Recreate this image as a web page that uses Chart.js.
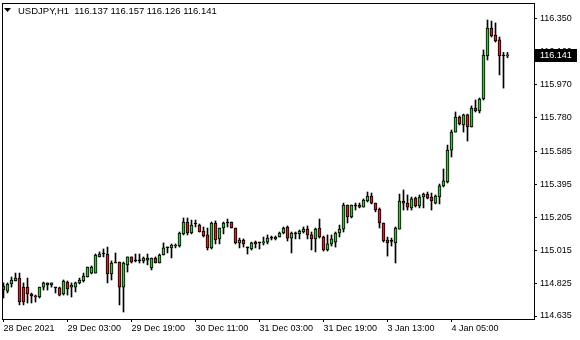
<!DOCTYPE html>
<html><head><meta charset="utf-8">
<script src="https://cdn.jsdelivr.net/npm/chart.js@4.4.1/dist/chart.umd.min.js"></script>
<style>html,body{margin:0;padding:0;background:#fff;}#wrap{width:580px;height:340px;}</style>
</head><body><div id="wrap"><canvas id="c" width="580" height="340"></canvas></div>
<script>
const symbol = 'USDJPY,H1';
const tickBars = [0, 16, 32, 48, 64, 80, 96, 112];
const tickLabels = ['28 Dec 2021', '29 Dec 03:00', '29 Dec 19:00', '30 Dec 11:00', '31 Dec 03:00', '31 Dec 19:00', '3 Jan 13:00', '4 Jan 05:00'];
const priceTicks = [116.350, 116.160, 115.970, 115.780, 115.585, 115.395, 115.205, 115.015, 114.825, 114.635];

const opens = [114.808,114.779,114.820,114.837,114.854,114.802,114.802,114.762,114.751,114.745,
114.802,114.826,114.814,114.797,114.797,114.762,114.831,114.802,114.802,114.826,
114.837,114.860,114.883,114.883,114.976,114.993,114.993,114.878,114.947,114.947,
114.802,114.930,114.976,114.953,114.953,114.953,114.958,114.912,114.970,114.941,
114.987,115.028,115.028,115.039,115.039,115.109,115.178,115.114,115.166,115.160,
115.126,115.103,115.028,115.172,115.080,115.143,115.172,115.178,115.143,115.057,
115.074,115.028,115.022,115.062,115.057,115.057,115.062,115.085,115.080,115.091,
115.114,115.149,115.085,115.109,115.109,115.120,115.137,115.103,115.080,115.143,
115.091,115.016,115.051,115.062,115.114,115.137,115.276,115.207,115.270,115.276,
115.264,115.299,115.328,115.287,115.253,115.172,115.074,115.066,115.057,115.137,
115.299,115.287,115.259,115.316,115.270,115.322,115.339,115.322,115.287,115.322,
115.386,115.409,115.593,115.697,115.784,115.738,115.796,115.726,115.836,115.819,
115.888,116.136,116.298,116.257,116.229,116.136,116.137];
const highs = [114.826,114.826,114.860,114.883,114.883,114.826,114.854,114.768,114.756,114.802,
114.831,114.826,114.826,114.797,114.802,114.843,114.837,114.826,114.831,114.854,
114.883,114.918,114.924,114.993,115.005,115.022,115.033,114.953,114.999,114.947,
114.947,114.976,114.976,114.993,114.993,114.976,114.993,114.970,114.976,114.993,
115.057,115.033,115.051,115.051,115.120,115.201,115.201,115.189,115.189,115.166,
115.149,115.143,115.178,115.184,115.143,115.178,115.195,115.178,115.143,115.085,
115.080,115.033,115.062,115.068,115.057,115.091,115.103,115.097,115.097,115.120,
115.149,115.155,115.120,115.120,115.132,115.149,115.155,115.120,115.143,115.195,
115.097,115.103,115.103,115.120,115.160,115.287,115.276,115.276,115.287,115.287,
115.311,115.351,115.345,115.287,115.259,115.172,115.091,115.085,115.149,115.339,
115.363,115.334,115.322,115.322,115.334,115.345,115.351,115.345,115.334,115.397,
115.484,115.622,115.709,115.813,115.790,115.801,115.801,115.848,115.882,115.894,
116.171,116.344,116.338,116.327,116.246,116.157,116.157];
const lows = [114.739,114.768,114.802,114.837,114.699,114.699,114.710,114.710,114.716,114.739,
114.785,114.785,114.802,114.768,114.751,114.756,114.756,114.745,114.774,114.820,
114.831,114.860,114.878,114.883,114.976,114.976,114.826,114.843,114.941,114.699,
114.658,114.889,114.941,114.947,114.941,114.941,114.930,114.901,114.941,114.941,
114.987,114.999,114.970,115.028,115.033,115.103,115.103,115.109,115.149,115.120,
115.091,115.016,115.022,115.051,115.051,115.109,115.149,115.143,115.051,115.028,
115.033,114.993,115.016,115.028,115.022,115.045,115.051,115.074,115.074,115.091,
115.109,115.068,114.999,115.080,115.080,115.114,115.080,115.016,115.005,115.085,
115.010,115.010,115.039,115.033,115.091,115.120,115.172,115.201,115.247,115.259,
115.264,115.293,115.282,115.236,115.143,115.062,114.981,115.039,114.941,115.137,
115.247,115.247,115.247,115.264,115.259,115.259,115.311,115.247,115.282,115.282,
115.380,115.403,115.553,115.697,115.738,115.697,115.645,115.726,115.813,115.807,
115.882,116.113,116.246,116.217,116.027,115.951,116.126];
const closes = [114.785,114.820,114.843,114.854,114.716,114.716,114.762,114.751,114.745,114.802,
114.826,114.814,114.826,114.797,114.756,114.837,114.791,114.814,114.826,114.843,
114.866,114.918,114.918,114.987,114.993,114.993,114.878,114.941,114.941,114.802,
114.941,114.976,114.947,114.953,114.953,114.970,114.970,114.970,114.941,114.987,
115.028,115.028,115.045,115.045,115.114,115.178,115.114,115.160,115.166,115.120,
115.097,115.028,115.172,115.074,115.143,115.172,115.172,115.143,115.057,115.074,
115.051,115.028,115.057,115.051,115.057,115.062,115.085,115.085,115.091,115.114,
115.143,115.085,115.114,115.109,115.126,115.137,115.103,115.080,115.137,115.091,
115.016,115.051,115.080,115.114,115.137,115.276,115.207,115.276,115.270,115.264,
115.305,115.328,115.287,115.247,115.172,115.068,115.057,115.066,115.143,115.299,
115.287,115.264,115.311,115.270,115.322,115.339,115.316,115.299,115.328,115.386,
115.415,115.593,115.697,115.784,115.744,115.796,115.726,115.836,115.819,115.888,
116.142,116.298,116.252,116.223,116.136,116.137,116.141];

const FONT = '"Liberation Sans", Arial, sans-serif';
const GREEN = '#2ec82e', RED = '#e31b1b', INK = '#000000';
const n = opens.length;
const wickData = opens.map((o, i) => ({ x: i, y: [lows[i], highs[i]] }));
const bodyData = opens.map((o, i) => ({ x: i, y: [o, closes[i]] }));
const bodyColors = opens.map((o, i) => closes[i] - o > 0.0015 ? GREEN : (o - closes[i] > 0.0015 ? RED : INK));

const overlay = {
  id: 'overlay',
  afterDraw(chart) {
    const ctx = chart.ctx, a = chart.chartArea, ys = chart.scales.y;
    ctx.save();
    ctx.fillStyle = INK;
    // frame
    ctx.fillRect(a.left, a.top, a.right - a.left + 1, 1);
    ctx.fillRect(a.left, a.bottom, a.right - a.left + 1, 1);
    ctx.fillRect(a.left, a.top, 1, a.bottom - a.top + 1);
    ctx.fillRect(a.right, a.top, 1, a.bottom - a.top + 1);
    // header
    ctx.beginPath(); ctx.moveTo(4, 8); ctx.lineTo(11, 8); ctx.lineTo(7.5, 12); ctx.closePath(); ctx.fill();
    ctx.font = '9.5px ' + FONT; ctx.textBaseline = 'middle'; ctx.textAlign = 'left';
    const L = n - 1;
    const hdr = symbol + '  ' + [opens[L], highs[L], lows[L], closes[L]].map(v => v.toFixed(3)).join(' ');
    ctx.fillText(hdr, 18, 11);
    // last price box
    const py = ys.getPixelForValue(closes[L]);
    ctx.fillStyle = INK;
    ctx.fillRect(a.right + 1, Math.round(py) - 6, 42, 13);
    ctx.fillStyle = '#ffffff';
    ctx.font = '9px ' + FONT;
    ctx.fillText(closes[L].toFixed(3), a.right + 6, Math.round(py) + 0.5);
    ctx.restore();
  }
};

new Chart(document.getElementById('c'), {
  type: 'bar',
  data: {
    datasets: [
      { data: wickData, backgroundColor: INK, borderWidth: 0, barThickness: 1, grouped: false, order: 2 },
      { data: bodyData, backgroundColor: bodyColors, borderColor: INK, borderWidth: 1, borderSkipped: false,
        barThickness: 3, minBarLength: 1, grouped: false, order: 1 }
    ]
  },
  options: {
    responsive: false, animation: false, devicePixelRatio: 1,
    layout: { padding: { left: 2, top: 3, right: 0, bottom: 0 } },
    plugins: { legend: { display: false }, tooltip: { enabled: false }, title: { display: false } },
    scales: {
      x: {
        type: 'linear', min: -0.375, max: 132.625, offset: false,
        afterBuildTicks: s => { s.ticks = tickBars.map(v => ({ value: v })); },
        afterFit: s => { s.height = 21; s.paddingLeft = 0; s.paddingRight = 0; },
        ticks: { align: 'start', autoSkip: false, maxRotation: 0, padding: 1, color: INK,
          font: { family: FONT, size: 9 },
          callback: v => { const k = tickBars.indexOf(v); return k >= 0 ? tickLabels[k] : ''; } },
        grid: { offset: false, drawOnChartArea: false, drawTicks: true, tickLength: 3, color: INK },
        border: { display: false }
      },
      y: {
        type: 'linear', position: 'right', min: 114.6177, max: 116.4422,
        afterBuildTicks: s => { s.ticks = priceTicks.map(v => ({ value: v })); },
        afterFit: s => { s.width = 46; s.paddingTop = 0; s.paddingBottom = 0; },
        ticks: { padding: 3, color: INK, font: { family: FONT, size: 9 }, callback: v => Number(v).toFixed(3) },
        grid: { drawOnChartArea: false, drawTicks: true, tickLength: 3, color: INK },
        border: { display: false }
      }
    }
  },
  plugins: [overlay]
});
</script></body></html>
